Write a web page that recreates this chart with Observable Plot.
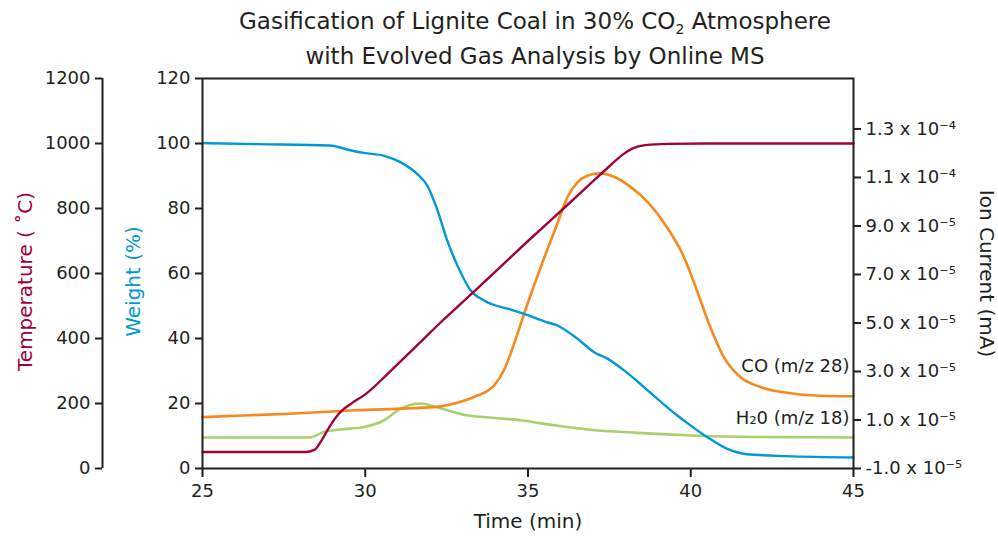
<!DOCTYPE html>
<html>
<head>
<meta charset="utf-8">
<script src="https://cdn.jsdelivr.net/npm/d3@7"></script>
<script src="https://cdn.jsdelivr.net/npm/@observablehq/plot@0.6"></script>
<style>
  html, body { margin: 0; padding: 0; background: #fff; }
  body { width: 998px; height: 540px; overflow: hidden; font-family: "DejaVu Sans", sans-serif; color: #231f20; }
  #title { height: 60px; box-sizing: border-box; padding-top: 4px; padding-left: 72px; text-align: center; font-size: 23px; line-height: 35px; white-space: nowrap; }
  #title sub { font-size: 14px; line-height: 0; vertical-align: -5px; }
</style>
</head>
<body>
<div id="title">Gasification of Lignite Coal in 30% CO<sub>2</sub> Atmosphere<br>with Evolved Gas Analysis by Online MS</div>
<div id="chart"></div>
<script>
// ---- data ----
const tempTime = [25, 28.2, 28.45, 28.65, 28.9, 29.2, 29.6, 30.0, 30.8, 31.8, 32.32, 32.8, 33.85, 35.0, 36.2, 37.0, 37.5, 37.9, 38.2, 38.6, 39.3, 40.5, 45];
const tempC    = [51, 51, 58, 85, 128, 170, 202, 228, 302, 399, 450, 494, 592, 700, 810, 884, 930, 965, 984, 995, 999, 1000, 1000];

const weightTime = [25, 26.7, 28.9, 29.15, 29.5, 29.96, 30.58, 31.09, 31.6, 31.91, 32.22, 32.52, 32.83, 33.24, 33.65, 34.47, 34.88, 35.5, 35.9, 36.51, 37.03, 37.44, 38.0, 38.5, 39.0, 39.5, 40.0, 40.5, 41.11, 41.73, 42.95, 45];
const weightPct  = [100.1, 99.8, 99.4, 99.0, 98.0, 97.1, 96.2, 94.2, 90.6, 87.0, 79.4, 70.1, 62.5, 54.8, 51.7, 48.9, 47.6, 45.3, 44.0, 40.0, 35.8, 33.8, 29.8, 25.6, 21.2, 17.0, 13.2, 9.7, 6.1, 4.4, 3.8, 3.4];

const coTime    = [25, 27.7, 29.7, 31.8, 32.32, 32.8, 33.34, 33.96, 34.26, 34.6, 34.88, 35.39, 35.9, 36.21, 36.52, 36.82, 37.18, 37.64, 38.16, 38.7, 39.27, 39.79, 40.19, 40.6, 41.01, 41.52, 42.14, 42.95, 43.98, 45];
const coCurrent = [1.12e-5, 1.26e-5, 1.40e-5, 1.51e-5, 1.56e-5, 1.70e-5, 1.95e-5, 2.43e-5, 3.05e-5, 4.25e-5, 5.38e-5, 7.3e-5, 9.09e-5, 10.18e-5, 10.8e-5, 11.07e-5, 11.17e-5, 11.03e-5, 10.6e-5, 9.95e-5, 8.95e-5, 7.72e-5, 6.34e-5, 4.83e-5, 3.6e-5, 2.77e-5, 2.36e-5, 2.12e-5, 2.0e-5, 1.98e-5];

const h2oTime    = [25, 28.3, 28.74, 29.25, 29.96, 30.58, 31.09, 31.7, 32.11, 33.03, 34.0, 34.78, 35.8, 36.82, 38.35, 39.89, 41.93, 45];
const h2oCurrent = [0.28e-5, 0.28e-5, 0.51e-5, 0.61e-5, 0.71e-5, 0.99e-5, 1.47e-5, 1.68e-5, 1.56e-5, 1.22e-5, 1.08e-5, 0.99e-5, 0.78e-5, 0.61e-5, 0.47e-5, 0.37e-5, 0.30e-5, 0.28e-5];

const xDomain = [25, 45];
const xTicks = [25, 30, 35, 40, 45];
const weightDomain = [0, 120];
const weightTicks = [0, 20, 40, 60, 80, 100, 120];
const tempDomain = [0, 1200];
const ionDomain = [-1.0e-5, 1.508e-4];
const ionTicks = [-1.0e-5, 1.0e-5, 3.0e-5, 5.0e-5, 7.0e-5, 9.0e-5, 1.1e-4, 1.3e-4];
const ionTickLabels = ["-1.0 x 10⁻⁵", "1.0 x 10⁻⁵", "3.0 x 10⁻⁵", "5.0 x 10⁻⁵", "7.0 x 10⁻⁵", "9.0 x 10⁻⁵", "1.1 x 10⁻⁴", "1.3 x 10⁻⁴"];
const seriesLabels = ["CO (m/z 28)", "H₂0 (m/z 18)"];
const seriesLabelIon = [3.2e-5, 1.07e-5];

// ---- mapping of secondary scales onto the weight scale ----
const tempToW = v => (v - tempDomain[0]) / (tempDomain[1] - tempDomain[0]) * (weightDomain[1] - weightDomain[0]) + weightDomain[0];
const ionToW = v => (v - ionDomain[0]) / (ionDomain[1] - ionDomain[0]) * (weightDomain[1] - weightDomain[0]) + weightDomain[0];

const zip = (xs, ys, f) => xs.map((t, i) => ({t, v: f(ys[i])}));
const tempData = zip(tempTime, tempC, tempToW);
const weightData = zip(weightTime, weightPct, v => v);
const coData = zip(coTime, coCurrent, ionToW);
const h2oData = zip(h2oTime, h2oCurrent, ionToW);

const ionTickW = ionTicks.map(ionToW);

const C_TEMP = "#a1003b", C_WEIGHT = "#0098d8", C_CO = "#f7891f", C_H2O = "#a8d06c", C_AX = "#231f20";
const FONT = "'DejaVu Sans', sans-serif";
const FS = 18;   // tick labels
const FL = 20;   // axis titles

const chart = Plot.plot({
  width: 998,
  height: 480,
  marginTop: 18,
  marginBottom: 72,
  marginLeft: 202,
  marginRight: 145,
  style: {fontFamily: FONT, fontSize: FS + "px", color: C_AX, background: "#fff"},
  x: {domain: xDomain},
  y: {domain: weightDomain},
  marks: [
    Plot.line(h2oData, {x: "t", y: "v", stroke: C_H2O, strokeWidth: 2.6, curve: "monotone-x"}),
    Plot.line(coData, {x: "t", y: "v", stroke: C_CO, strokeWidth: 2.6, curve: "monotone-x"}),
    Plot.line(weightData, {x: "t", y: "v", stroke: C_WEIGHT, strokeWidth: 2.4, curve: "monotone-x"}),
    Plot.line(tempData, {x: "t", y: "v", stroke: C_TEMP, strokeWidth: 2.4, curve: "monotone-x"}),
    Plot.frame({stroke: C_AX, strokeWidth: 2}),
    // x axis
    Plot.axisX(xTicks, {anchor: "bottom", tickSize: 9, tickPadding: 7, strokeWidth: 2, label: null, fontSize: FS, tickFormat: d => String(d)}),
    Plot.text(["Time (min)"], {frameAnchor: "bottom", textAnchor: "middle", dy: 59, text: d => d, fontSize: FL, fill: C_AX}),
    // weight axis
    Plot.axisY(weightTicks, {anchor: "left", tickSize: 7, tickPadding: 5, strokeWidth: 2, label: null, fontSize: FS, tickFormat: d => String(d)}),
    Plot.text(["Weight (%)"], {frameAnchor: "left", textAnchor: "middle", rotate: -90, dx: -69, dy: 8, text: d => d, fontSize: FL, fill: C_WEIGHT}),
    // temperature axis (offset to the left)
    Plot.ruleX([xDomain[0]], {y1: weightDomain[0], y2: weightDomain[1], dx: -100, stroke: C_AX, strokeWidth: 2}),
    Plot.axisY(weightTicks, {anchor: "left", dx: -100, tickSize: 7, tickPadding: 5, strokeWidth: 2, label: null, fontSize: FS, tickFormat: d => String(Math.round(d * (tempDomain[1] - tempDomain[0]) / (weightDomain[1] - weightDomain[0])))}),
    Plot.text(["Temperature ( ˚C)"], {frameAnchor: "left", textAnchor: "middle", rotate: -90, dx: -177, dy: 8, text: d => d, fontSize: FL, fill: C_TEMP}),
    // ion current axis
    Plot.axisY(ionTickW, {anchor: "right", tickSize: 7, tickPadding: 5, strokeWidth: 2, label: null, fontSize: FS, tickFormat: d => ionTickLabels[ionTickW.indexOf(d)]}),
    Plot.text(["Ion Current (mA)"], {frameAnchor: "right", textAnchor: "middle", rotate: 90, dx: 133, text: d => d, fontSize: FL, fill: C_AX}),
    // series labels
    Plot.text(seriesLabels, {x: xDomain[1], y: (d, i) => ionToW(seriesLabelIon[i]), text: d => d, textAnchor: "end", dx: -4, fontSize: FS, fill: C_AX})
  ]
});
document.getElementById("chart").appendChild(chart);
</script>
</body>
</html>
